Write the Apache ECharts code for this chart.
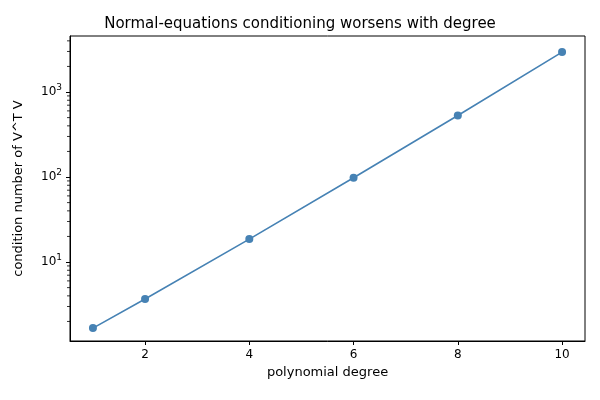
<!DOCTYPE html>
<html><head><meta charset="utf-8">
<script src="https://cdn.jsdelivr.net/npm/echarts@6/dist/echarts.min.js"></script>
<style>body{margin:0}#c{width:600px;height:400px}</style></head>
<body><div id="c"></div>
<script>
const degrees = [1, 2, 4, 6, 8, 10];
const condNumbers = [1.67, 3.67, 18.6, 98, 530, 2950];
const xTicks = [2, 4, 6, 8, 10];
const yDecades = [1, 2, 3];
const minor = [];
for (let d = 0; d <= 3; d++) for (let m = 2; m <= 9; m++) minor.push(d + Math.log10(m));
const data = degrees.map((d, i) => [d, Math.log10(condNumbers[i])]);
const chart = echarts.init(document.getElementById('c'));
const font = 'DejaVu Sans';
chart.setOption({
  animation: false,
  title: {text: 'Normal-equations conditioning worsens with degree', left: 'center', top: 12,
    textStyle: {fontFamily: font, fontSize: 15, fontWeight: 'normal', color: '#000'}},
  grid: {left: 70, right: 15, top: 36, bottom: 59, show: true, borderColor: '#000', borderWidth: 1},
  xAxis: {type: 'value', min: 0.56, max: 10.44, name: 'polynomial degree', nameLocation: 'middle', nameGap: 22,
    nameTextStyle: {fontFamily: font, fontSize: 13, color: '#000'},
    axisLine: {onZero: false, lineStyle: {color: '#000'}}, splitLine: {show: false},
    axisTick: {customValues: xTicks, length: 4, lineStyle: {color: '#000'}},
    axisLabel: {customValues: xTicks, fontFamily: font, fontSize: 12, color: '#000'}},
  yAxis: {type: 'value', min: 0.071, max: 3.659, name: 'condition number of V^T V', nameLocation: 'middle', nameGap: 45,
    nameTextStyle: {fontFamily: font, fontSize: 13, color: '#000'},
    axisLine: {show: true, lineStyle: {color: '#000'}}, splitLine: {show: false},
    axisTick: {customValues: yDecades, length: 4, lineStyle: {color: '#000'}},
    minorTick: {show: false},
    axisLabel: {customValues: yDecades, fontFamily: font, fontSize: 12, color: '#000',
      formatter: v => '10{s|' + Math.round(v) + '}',
      rich: {s: {fontSize: 9, verticalAlign: 'top', padding: [0, 0, 8, 0], fontFamily: font, color: '#000'}}}},
  series: [{type: 'line', data: data, symbol: 'circle', symbolSize: 8,
    itemStyle: {color: '#4682b4'}, lineStyle: {color: '#4682b4', width: 1.6}},
   {type: 'scatter', data: minor.filter(v => v > 0.071 && v < 3.659).map(v => [0.56, v]),
    symbol: 'rect', symbolSize: [3, 1], symbolOffset: [-1.5, 0], itemStyle: {color: '#000'}, silent: true}]
});
</script></body></html>
